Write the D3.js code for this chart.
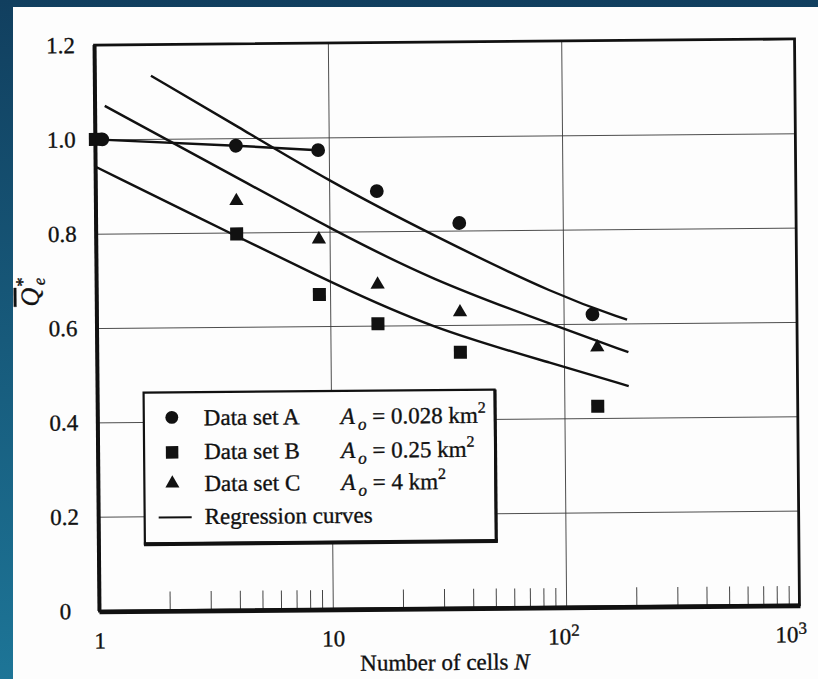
<!DOCTYPE html>
<html>
<head>
<meta charset="utf-8">
<script src="https://cdn.jsdelivr.net/npm/d3@7"></script>
<style>
  body { margin: 0; overflow: hidden; background: #114262; }
  text { font-family: "Liberation Serif", "Times New Roman", serif; fill: #111; stroke: #111; stroke-width: 0.35px; }
</style>
</head>
<body>
<script>
// values
var setA_N = [1.07, 4, 9, 16, 36, 133];
var setA_Q = [1.0, 0.984, 0.973, 0.885, 0.816, 0.62];

var setB_N = [1, 4, 9, 16, 36, 139];
var setB_Q = [1.0, 0.797, 0.667, 0.604, 0.542, 0.425];

var setC_N = [4, 9, 16, 36, 139];
var setC_Q = [0.867, 0.784, 0.687, 0.627, 0.55];

// regression curves
var curveA_N = [1.74, 4.1, 10, 26.8, 96, 187];
var curveA_Q = [1.134, 1.024, 0.907, 0.794, 0.658, 0.608];
var curveC_N = [1.1, 4.5, 10, 26.8, 96, 189];
var curveC_Q = [1.071, 0.903, 0.808, 0.697, 0.593, 0.539];
var curveB_N = [1.0, 4.5, 10, 26.8, 96, 189];
var curveB_Q = [0.942, 0.779, 0.694, 0.594, 0.512, 0.467];

var yTicks = [0, 0.2, 0.4, 0.6, 0.8, 1.0, 1.2];
var yLabels = ["0", "0.2", "0.4", "0.6", "0.8", "1.0", "1.2"];
var yGrid = [0.2, 0.4, 0.6, 0.8, 1.0];
var xTicks = [1, 10, 100, 1000];
var xLabels = ["1", "10", "10", "10"];
var xSup = ["", "", "2", "3"];
var xGrid = [10, 100];

var legendNames = ["Data set A", "Data set B", "Data set C", "Regression curves"];
var legendArea = ["0.028", "0.25", "4"];

function zip(ns, qs) {
  return ns.map(function (n, i) { return { n: n, q: qs[i] }; });
}

function draw() {
  var W = 818, H = 679;

  var svg = d3.select("body").append("svg")
    .attr("width", W)
    .attr("height", H);

  var grad = svg.append("defs").append("linearGradient")
    .attr("id", "bg")
    .attr("x1", 0).attr("y1", 0).attr("x2", 0).attr("y2", 1);
  grad.append("stop").attr("offset", 0).attr("stop-color", "#113f5f");
  grad.append("stop").attr("offset", 1).attr("stop-color", "#1d7597");

  svg.append("rect").attr("width", W).attr("height", H).attr("fill", "url(#bg)");
  svg.append("rect")
    .attr("x", 13).attr("y", 7)
    .attr("width", W - 13).attr("height", H - 7)
    .attr("fill", "#fdfdfd");

  var x = d3.scaleLog().domain([1, 1000]).range([97, 797]);
  var y = d3.scaleLinear().domain([0, 1.2]).range([608, 42]);

  var left = x.range()[0], right = x.range()[1];
  var top = y.range()[1], bottom = y.range()[0];

  // the scan is a little tilted
  var g = svg.append("g")
    .attr("transform", "rotate(-0.5," + (left + right) / 2 + "," + (top + bottom) / 2 + ")");

  // grid
  g.append("g")
    .attr("transform", "translate(" + left + ",0)")
    .call(d3.axisLeft(y).tickValues(yGrid).tickSize(-(right - left)).tickFormat(""))
    .call(function (s) { s.select(".domain").remove(); })
    .selectAll("line").attr("stroke", "#3a3a3a").attr("stroke-width", 0.9);

  g.append("g")
    .attr("transform", "translate(0," + bottom + ")")
    .call(d3.axisBottom(x).tickValues(xGrid).tickSize(-(bottom - top)).tickFormat(""))
    .call(function (s) { s.select(".domain").remove(); })
    .selectAll("line").attr("stroke", "#3a3a3a").attr("stroke-width", 0.9);

  // minor log ticks
  var minor = x.ticks().filter(function (d) { return xTicks.indexOf(d) < 0; });
  g.append("g")
    .attr("transform", "translate(0," + bottom + ")")
    .call(d3.axisBottom(x).tickValues(minor).tickSize(-19).tickFormat(""))
    .call(function (s) { s.select(".domain").remove(); })
    .selectAll("line").attr("stroke", "#444").attr("stroke-width", 1);

  // tick labels
  var yAx = g.append("g")
    .attr("transform", "translate(" + left + ",0)")
    .call(d3.axisLeft(y).tickValues(yTicks).tickSize(0).tickFormat(function (d, i) { return yLabels[i]; }));
  yAx.select(".domain").remove();
  yAx.selectAll("text")
    .attr("x", -34)
    .attr("text-anchor", "middle")
    .attr("font-size", 23)
    .attr("font-family", "Liberation Serif, serif")
    .attr("fill", "#111");

  var xAx = g.append("g")
    .attr("transform", "translate(0," + bottom + ")")
    .call(d3.axisBottom(x).tickValues(xTicks).tickSize(0).tickPadding(21).tickFormat(""));
  xAx.select(".domain").remove();
  xAx.selectAll(".tick text")
    .attr("font-size", 23)
    .attr("font-family", "Liberation Serif, serif")
    .attr("fill", "#111")
    .each(function (d, i) {
      var t = d3.select(this);
      t.append("tspan").text(xLabels[i]);
      if (xSup[i]) {
        t.attr("x", i === 3 ? -9 : -3);
        t.append("tspan").attr("dy", "-0.5em").attr("font-size", 17).text(xSup[i]);
      }
    });

  // axis titles
  var xt = g.append("text")
    .attr("x", 442)
    .attr("y", 670)
    .attr("text-anchor", "middle")
    .attr("font-size", 23);
  xt.append("tspan").text("Number of cells ");
  xt.append("tspan").attr("font-style", "italic").text("N");

  var yt = g.append("text")
    .attr("transform", "translate(39,303) rotate(-90)")
    .attr("font-size", 26);
  yt.append("tspan").attr("font-style", "italic").style("text-decoration", "overline").text("Q");
  yt.append("tspan").attr("dy", -10).attr("dx", 1).attr("font-size", 19).text("*");
  yt.append("tspan").attr("dy", 16).attr("dx", -8).attr("font-size", 17).attr("font-style", "italic").text("e");

  // regression curves
  var line = d3.line()
    .x(function (d) { return x(d.n); })
    .y(function (d) { return y(d.q); })
    .curve(d3.curveBasis);

  [zip(curveA_N, curveA_Q), zip(curveC_N, curveC_Q), zip(curveB_N, curveB_Q)].forEach(function (c) {
    g.append("path")
      .attr("d", line(c))
      .attr("fill", "none")
      .attr("stroke", "#111")
      .attr("stroke-width", 2.4);
  });

  // joining line of data set A
  g.append("path")
    .attr("d", d3.line()
      .x(function (d) { return x(d.n); })
      .y(function (d) { return y(d.q); })([{ n: 1, q: setA_Q[0] }].concat(zip(setA_N, setA_Q).slice(1, 3))))
    .attr("fill", "none")
    .attr("stroke", "#111")
    .attr("stroke-width", 2.4);

  // frame
  g.append("rect")
    .attr("x", left).attr("y", top)
    .attr("width", right - left).attr("height", bottom - top)
    .attr("fill", "none")
    .attr("stroke", "#111")
    .attr("stroke-width", 2.8);
  g.append("line")
    .attr("x1", left).attr("x2", right + 1)
    .attr("y1", bottom + 1).attr("y2", bottom + 1)
    .attr("stroke", "#111").attr("stroke-width", 4.5);
  g.append("line")
    .attr("x1", left).attr("x2", left)
    .attr("y1", top).attr("y2", bottom)
    .attr("stroke", "#111").attr("stroke-width", 4);

  // markers
  var sym = {
    A: d3.symbol().type(d3.symbolCircle).size(150),
    B: d3.symbol().type(d3.symbolSquare).size(170),
    C: d3.symbol().type(d3.symbolTriangle).size(88)
  };

  function markers(data, s) {
    g.append("g").selectAll("path")
      .data(data)
      .enter()
      .append("path")
      .attr("transform", function (d) { return "translate(" + x(d.n) + "," + y(d.q) + ")"; })
      .attr("d", s)
      .attr("fill", "#111");
  }
  markers(zip(setB_N, setB_Q), sym.B);
  markers(zip(setA_N, setA_Q), sym.A);
  markers(zip(setC_N, setC_Q), sym.C);

  // legend
  var lg = g.append("g");
  lg.append("rect")
    .attr("x", 143).attr("y", 390)
    .attr("width", 351).attr("height", 151)
    .attr("fill", "#fdfdfd")
    .attr("stroke", "#111")
    .attr("stroke-width", 2.2);
  lg.append("line")
    .attr("x1", 142).attr("x2", 496).attr("y1", 541.5).attr("y2", 541.5)
    .attr("stroke", "#111").attr("stroke-width", 4);
  lg.append("line")
    .attr("x1", 494.5).attr("x2", 494.5).attr("y1", 390).attr("y2", 542)
    .attr("stroke", "#111").attr("stroke-width", 3);

  var rowBase = [423, 457, 489, 522];
  var rowMark = [415, 450, 481, 515];
  var legSyms = [
    d3.symbol().type(d3.symbolCircle).size(130),
    d3.symbol().type(d3.symbolSquare).size(155),
    d3.symbol().type(d3.symbolTriangle).size(85)
  ];

  legendNames.forEach(function (name, i) {
    if (i < 3) {
      lg.append("path")
        .attr("transform", "translate(171," + rowMark[i] + ")")
        .attr("d", legSyms[i])
        .attr("fill", "#111");
    } else {
      lg.append("line")
        .attr("x1", 157).attr("x2", 190)
        .attr("y1", rowMark[i]).attr("y2", rowMark[i])
        .attr("stroke", "#111").attr("stroke-width", 2);
    }
    lg.append("text")
      .attr("x", 203)
      .attr("y", rowBase[i])
      .attr("font-size", 23)
      .text(name);

    if (i < 3) {
      var t = lg.append("text")
        .attr("x", 340)
        .attr("y", rowBase[i])
        .attr("font-size", 23);
      t.append("tspan").attr("font-style", "italic").text("A");
      t.append("tspan").attr("font-style", "italic").attr("font-size", 17).attr("dx", 3).attr("dy", 6).text("o");
      t.append("tspan").attr("dy", -6).text(" = " + legendArea[i] + " km");
      t.append("tspan").attr("dy", -10).attr("font-size", 16).text("2");
    }
  });
}

draw();
</script>
</body>
</html>
